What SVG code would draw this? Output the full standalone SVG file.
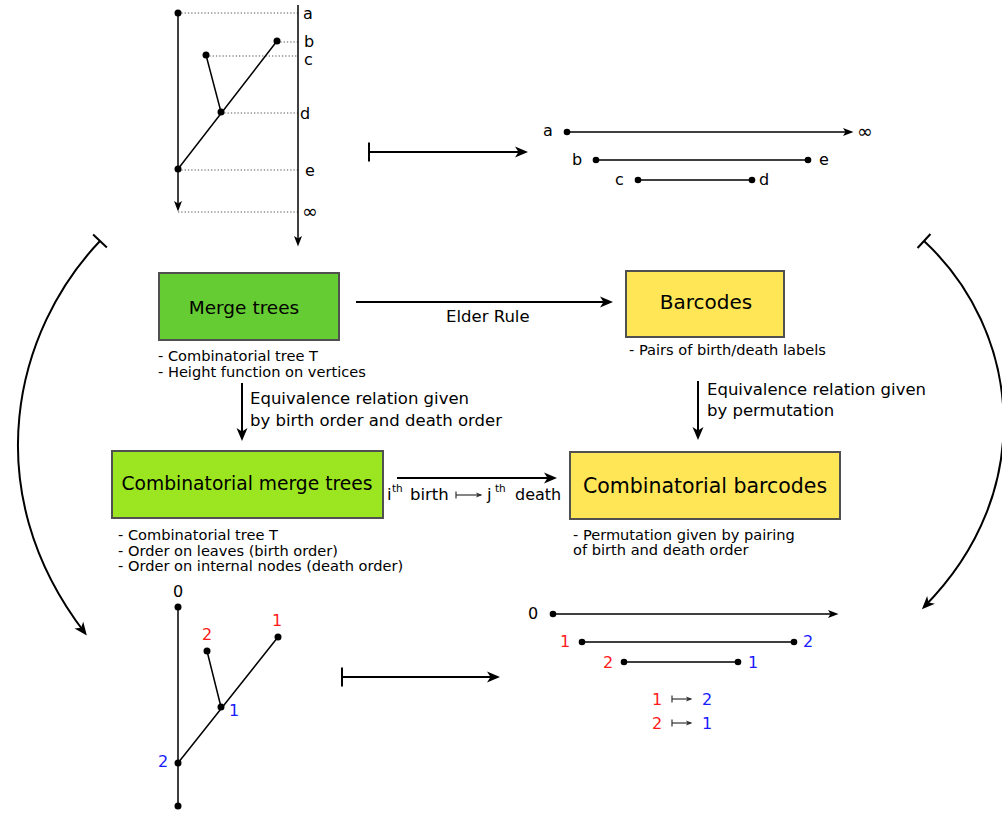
<svg xmlns="http://www.w3.org/2000/svg" width="1002" height="813" viewBox="0 0 1002 813">
<defs>
<style>
text{font-family:"DejaVu Sans","Verdana",sans-serif;fill:#000}
.title{font-size:19px;text-anchor:middle}
.cap{font-size:16.5px}
.sub{font-size:14.6px}
.lab{font-size:16px}
.red{fill:#ff1a1a}
.blue{fill:#1a1aff}
.box{stroke:#505050;stroke-width:2}
.ln{stroke:#000;fill:none}
.main{stroke-width:2}
.thin{stroke-width:1.5}
.dot{stroke:#555;stroke-width:1.1;stroke-dasharray:1.3 2;fill:none}
.map{stroke:#333;stroke-width:1.2;fill:none}
</style>
<marker id="ah" markerUnits="userSpaceOnUse" markerWidth="24" markerHeight="24" orient="auto" overflow="visible">
<path d="M3,0 L-10,-5.5 L-6.5,0 L-10,5.5 Z" fill="#000"/>
</marker>
<marker id="ahs" markerUnits="userSpaceOnUse" markerWidth="20" markerHeight="20" orient="auto" overflow="visible">
<path d="M2.5,0 L-8,-4 L-5.5,0 L-8,4 Z" fill="#000"/>
</marker>
<marker id="ahm" markerUnits="userSpaceOnUse" markerWidth="12" markerHeight="12" orient="auto" overflow="visible">
<path d="M1.5,0 L-5,-2.6 L-3.5,0 L-5,2.6 Z" fill="#333"/>
</marker>
<marker id="tee" markerUnits="userSpaceOnUse" markerWidth="24" markerHeight="24" orient="auto" overflow="visible">
<path d="M0,-9.5 L0,9.5" stroke="#000" stroke-width="2"/>
</marker>
<marker id="teem" markerUnits="userSpaceOnUse" markerWidth="12" markerHeight="12" orient="auto" overflow="visible">
<path d="M0,-3.5 L0,3.5" stroke="#333" stroke-width="1.2"/>
</marker>
</defs>
<rect width="1002" height="813" fill="#fff"/>

<!-- top merge tree -->
<g id="top-tree">
<path class="dot" d="M178,13 H298 M277,42 H298 M206,56 H298 M221,113 H298 M178,170 H298 M178,212 H298"/>
<path class="ln thin" d="M178,13 V209" marker-end="url(#ahs)"/>
<path class="ln thin" d="M298,5 V244" marker-end="url(#ahs)"/>
<path class="ln thin" d="M178,169 L277,41 M206,55 L221,112"/>
<g fill="#000">
<circle cx="178" cy="13" r="3.5"/><circle cx="277" cy="41" r="3.5"/><circle cx="206" cy="55" r="3.5"/>
<circle cx="221" cy="112" r="3.5"/><circle cx="178" cy="169" r="3.5"/>
</g>
<text class="lab" x="303" y="19">a</text>
<text class="lab" x="304" y="47">b</text>
<text class="lab" x="304" y="65">c</text>
<text class="lab" x="300" y="119">d</text>
<text class="lab" x="305" y="176">e</text>
<text x="302" y="218" style="font-size:19px">∞</text>
</g>

<!-- top barcode -->
<g id="top-barcode">
<path class="ln thin" d="M567,132 H851" marker-end="url(#ahs)"/>
<path class="ln thin" d="M596,160 H808 M638,180 H752"/>
<g fill="#000">
<circle cx="567" cy="132" r="3.3"/><circle cx="596" cy="160" r="3.3"/><circle cx="808" cy="160" r="3.3"/>
<circle cx="638" cy="180" r="3.3"/><circle cx="752" cy="180" r="3.3"/>
</g>
<text class="lab" x="543" y="136">a</text>
<text class="lab" x="572" y="165">b</text>
<text class="lab" x="819" y="165">e</text>
<text class="lab" x="615" y="185">c</text>
<text class="lab" x="759" y="185">d</text>
<text x="857" y="138" style="font-size:19px">∞</text>
</g>

<!-- boxes -->
<g id="merge-trees">
<rect class="box" x="159" y="273" width="180" height="67" fill="#66cc33"/>
<text class="title" x="244" y="314" style="font-size:18.5px">Merge trees</text>
<text class="sub" x="158" y="361">- Combinatorial tree T</text>
<text class="sub" x="158" y="377">- Height function on vertices</text>
</g>
<g id="barcodes">
<rect class="box" x="626" y="271" width="158" height="66" fill="#ffe657"/>
<text class="title" x="706" y="309" style="font-size:20px">Barcodes</text>
<text class="sub" x="629" y="355">- Pairs of birth/death labels</text>
</g>
<g id="comb-merge-trees">
<rect class="box" x="112" y="451" width="271" height="67" fill="#9be621"/>
<text class="title" x="247" y="490" style="font-size:18.7px">Combinatorial merge trees</text>
<text class="sub" x="118" y="540">- Combinatorial tree T</text>
<text class="sub" x="118" y="555.5">- Order on leaves (birth order)</text>
<text class="sub" x="118" y="571">- Order on internal nodes (death order)</text>
</g>
<g id="comb-barcodes">
<rect class="box" x="570" y="452" width="270" height="67" fill="#ffe657"/>
<text class="title" x="705" y="493" style="font-size:20.5px">Combinatorial barcodes</text>
<text class="sub" x="573" y="540">- Permutation given by pairing</text>
<text class="sub" x="573" y="555">of birth and death order</text>
</g>

<!-- bottom tree -->
<g id="bottom-tree">
<path class="ln thin" d="M178,607 V807 M178,763 L278,637 M207,651 L221,707"/>
<g fill="#000">
<circle cx="178" cy="607" r="3.5"/><circle cx="178" cy="763" r="3.5"/><circle cx="178" cy="806" r="3.5"/>
<circle cx="278" cy="637" r="3.5"/><circle cx="207" cy="651" r="3.5"/><circle cx="221" cy="707" r="3.5"/>
</g>
<text class="lab" x="173" y="597">0</text>
<text class="lab red" x="202" y="640">2</text>
<text class="lab red" x="272" y="626">1</text>
<text class="lab blue" x="229" y="716">1</text>
<text class="lab blue" x="158" y="767">2</text>
</g>

<!-- bottom barcode -->
<g id="bottom-barcode">
<path class="ln thin" d="M553,614 H836" marker-end="url(#ahs)"/>
<path class="ln thin" d="M582,642 H794 M624,662 H738"/>
<g fill="#000">
<circle cx="553" cy="614" r="3.3"/><circle cx="582" cy="642" r="3.3"/><circle cx="794" cy="642" r="3.3"/>
<circle cx="624" cy="662" r="3.3"/><circle cx="738" cy="662" r="3.3"/>
</g>
<text class="lab" x="528" y="619">0</text>
<text class="lab red" x="560" y="647">1</text>
<text class="lab blue" x="803" y="647">2</text>
<text class="lab red" x="603" y="668">2</text>
<text class="lab blue" x="748" y="668">1</text>
<text class="lab red" x="652" y="705">1</text>
<path class="map" d="M672,699 H691" marker-start="url(#teem)" marker-end="url(#ahm)"/>
<text class="lab blue" x="702" y="705">2</text>
<text class="lab red" x="652" y="729">2</text>
<path class="map" d="M672,723 H691" marker-start="url(#teem)" marker-end="url(#ahm)"/>
<text class="lab blue" x="702" y="729">1</text>
</g>

<!-- connectors -->
<g id="connectors">
<path class="ln main" d="M369,152 H525" marker-start="url(#tee)" marker-end="url(#ah)"/>
<path class="ln main" d="M356,302 H610" marker-end="url(#ah)"/>
<text class="cap" x="446" y="322">Elder Rule</text>
<path class="ln main" d="M242,383 V438" marker-end="url(#ah)"/>
<text class="cap" x="250" y="404">Equivalence relation given</text>
<text class="cap" x="250" y="426">by birth order and death order</text>
<path class="ln main" d="M698,381 V437" marker-end="url(#ah)"/>
<text class="cap" x="707" y="395">Equivalence relation given</text>
<text class="cap" x="707" y="416">by permutation</text>
<path class="ln main" d="M397,478 H554" marker-end="url(#ah)"/>
<text class="cap" x="387" y="500">i</text>
<text x="392" y="492" style="font-size:10.5px">th</text>
<text class="cap" x="410" y="500">birth</text>
<path class="map" d="M456,495 H481" marker-start="url(#teem)" marker-end="url(#ahm)"/>
<text class="cap" x="487" y="500">j</text>
<text x="495" y="492" style="font-size:10.5px">th</text>
<text class="cap" x="515" y="500" style="font-size:16px">death</text>
<path class="ln main" d="M342,677 H497" marker-start="url(#tee)" marker-end="url(#ah)"/>
<path class="ln main" d="M100,241 C15,330 -25,490 85,633" marker-start="url(#tee)" marker-end="url(#ah)"/>
<path class="ln main" d="M924,241 C1020,330 1040,490 924,607" marker-start="url(#tee)" marker-end="url(#ah)"/>
</g>
</svg>
